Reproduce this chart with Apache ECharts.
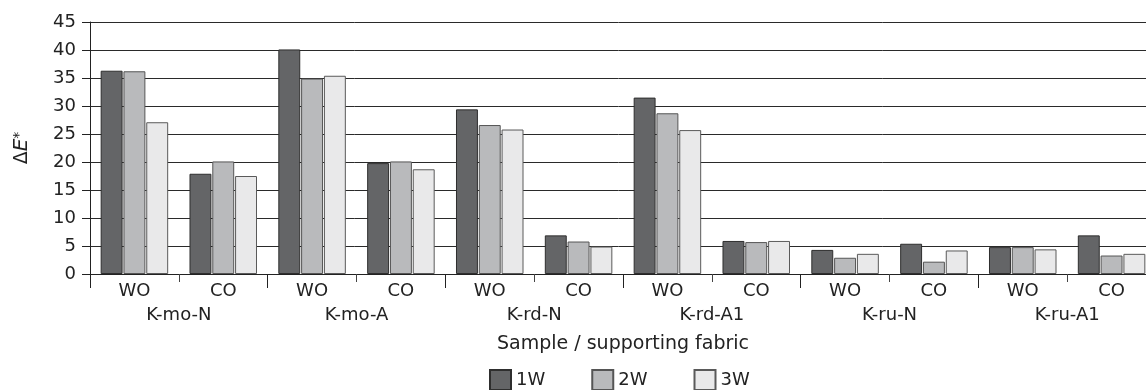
<!DOCTYPE html>
<html>
<head>
<meta charset="utf-8">
<script src="https://cdn.jsdelivr.net/npm/echarts@6/dist/echarts.min.js"></script>
<style>
html,body{margin:0;padding:0;background:#fff;}
#chart{width:1146px;height:390px;}
</style>
</head>
<body>
<div id="chart"></div>
<script>
// ---- data ----
var samples = ['K-mo-N', 'K-mo-A', 'K-rd-N', 'K-rd-A1', 'K-ru-N', 'K-ru-A1'];
var fabrics = ['WO', 'CO'];
var seriesNames = ['1W', '2W', '3W'];
var w1 = [36.3, 17.9, 40.1, 19.8, 29.4, 6.9, 31.5, 5.9, 4.3, 5.4, 4.8, 6.9];
var w2 = [36.2, 20.1, 34.9, 20.1, 26.6, 5.8, 28.7, 5.7, 2.9, 2.2, 4.8, 3.3];
var w3 = [27.1, 17.5, 35.4, 18.7, 25.8, 4.9, 25.7, 5.9, 3.6, 4.2, 4.4, 3.6];
var yTicks = [0, 5, 10, 15, 20, 25, 30, 35, 40, 45];

// ---- build ----
var cats = [];
samples.forEach(function (s) { fabrics.forEach(function (f) { cats.push(s + '|' + f); }); });

var FONT = 'DejaVu Sans';
var TXT = '#222';
var fills = ['#646567', '#b9babc', '#e9e9ea'];
var borders = ['#2e2e2e', '#555555', '#5a5a5a'];
var vals = [w1, w2, w3];

var chart = echarts.init(document.getElementById('chart'), null, {renderer: 'canvas'});
chart.setOption({
  animation: false,
  backgroundColor: '#fff',
  textStyle: {fontFamily: FONT},
  grid: {left: 90, width: 1066, top: 22, bottom: 116, containLabel: false, outerBoundsMode: 'none'},
  legend: {
    data: seriesNames,
    left: 489, top: 369, padding: 0,
    icon: 'rect',
    itemWidth: 21, itemHeight: 20, itemGap: 46,
    textStyle: {fontFamily: FONT, fontSize: 18, color: TXT}
  },
  xAxis: [
    {
      type: 'category', data: cats, position: 'bottom',
      axisLine: {lineStyle: {color: '#222', width: 1}},
      axisTick: {show: true, length: 8, interval: 0, lineStyle: {color: '#444'}},
      axisLabel: {
        interval: 0, margin: 8, fontFamily: FONT, fontSize: 18, color: TXT,
        formatter: function (v) { return v.split('|')[1]; }
      },
      splitLine: {show: false}
    },
    {
      type: 'category', data: samples, position: 'bottom',
      name: 'Sample / supporting fabric', nameLocation: 'middle', nameGap: 61,
      nameTextStyle: {fontFamily: FONT, fontSize: 19, color: TXT},
      axisLine: {show: true, lineStyle: {color: '#222', width: 1}},
      axisTick: {show: true, length: 14, interval: 0, lineStyle: {color: '#222'}},
      axisLabel: {interval: 0, margin: 32, fontFamily: FONT, fontSize: 18, color: TXT},
      splitLine: {show: false}
    }
  ],
  yAxis: {
    type: 'value', min: yTicks[0], max: yTicks[yTicks.length - 1], interval: 5,
    name: '{d|\u0394}{e|E}{s|*}', nameLocation: 'middle', nameGap: 58,
    nameTextStyle: {
      rich: {
        d: {fontFamily: FONT, fontSize: 19, color: TXT},
        e: {fontFamily: FONT, fontSize: 20, fontStyle: 'italic', color: TXT},
        s: {fontFamily: FONT, fontSize: 14, color: TXT, verticalAlign: 'top'}
      }
    },
    axisLine: {show: true, lineStyle: {color: '#222', width: 1}},
    axisTick: {show: true, length: 8, lineStyle: {color: '#222'}},
    axisLabel: {margin: 14, fontFamily: FONT, fontSize: 18, color: TXT},
    splitLine: {show: true, lineStyle: {color: '#2a2a2a', width: 1}}
  },
  series: seriesNames.map(function (n, i) {
    return {
      name: n, type: 'bar', xAxisIndex: 0, data: vals[i],
      barCategoryGap: '24%', barGap: '4%',
      itemStyle: {color: fills[i], borderColor: borders[i], borderWidth: 1}
    };
  })
});
</script>
</body>
</html>
